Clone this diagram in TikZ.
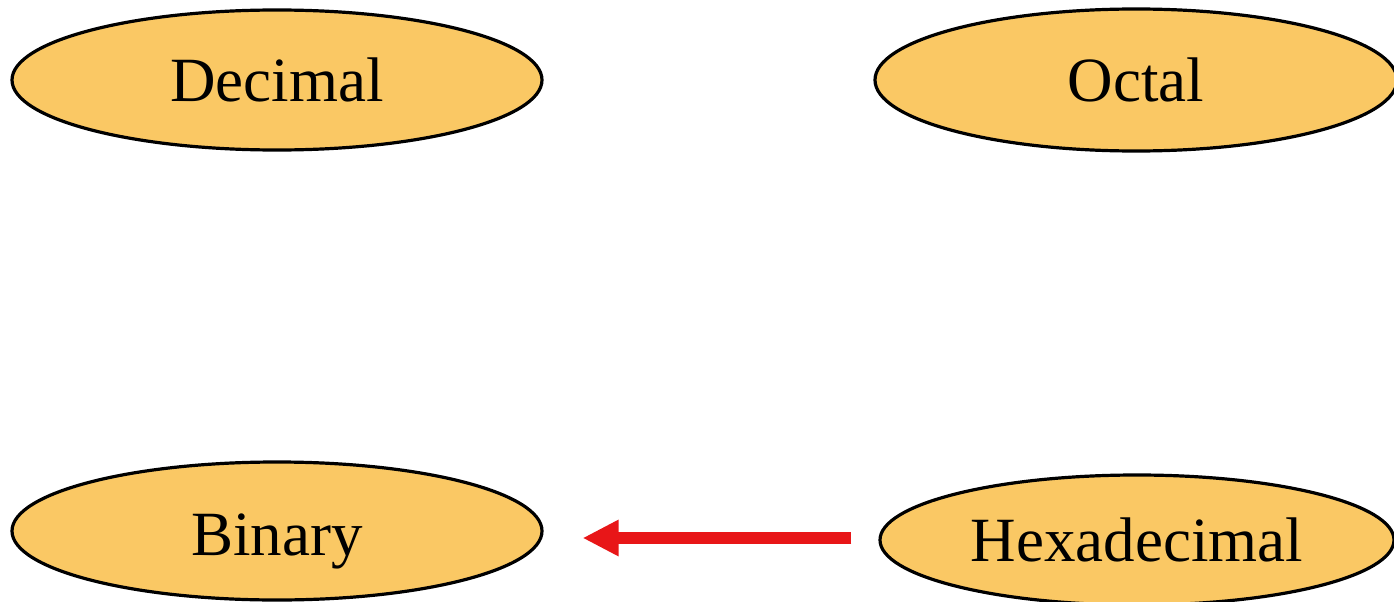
\documentclass[tikz,border=0pt]{standalone}
\usepackage{fontspec}
\setmainfont{Liberation Serif}
\usetikzlibrary{shapes.geometric,arrows.meta}
\definecolor{nodefill}{RGB}{250,200,100}
\definecolor{arrowred}{RGB}{232,22,24}
\tikzset{
  base/.style={ellipse, draw=black, line width=3.2pt, fill=nodefill, inner sep=0pt,
    font=\fontsize{63}{70}\selectfont},
  conv/.style={draw=arrowred, line width=12pt, -{Triangle[length=36pt,width=34pt]}}
}
\begin{document}
\begin{tikzpicture}[x=1pt,y=-1pt]
\useasboundingbox (0,0) rectangle (1394,602);
\clip (0,0) rectangle (1394,602);
\fill[white] (0,0) rectangle (1394,602);
\node[base, minimum width=530pt, minimum height=140pt] (dec) at (277,80) {Decimal};
\node[base, minimum width=522pt, minimum height=142pt] (oct) at (1136,80) {Octal};
\node[base, minimum width=530pt, minimum height=138pt] (bin) at (277,531) {\rule{0pt}{62pt}Binary};
\node[base, minimum width=514pt, minimum height=130pt] (hex) at (1137,540) {Hexadecimal};
\draw[conv, shorten <=27pt, shorten >=39pt] ([yshift=2pt]hex.west) -- ([yshift=2pt]hex.west -| bin.east);
\end{tikzpicture}
\end{document}
